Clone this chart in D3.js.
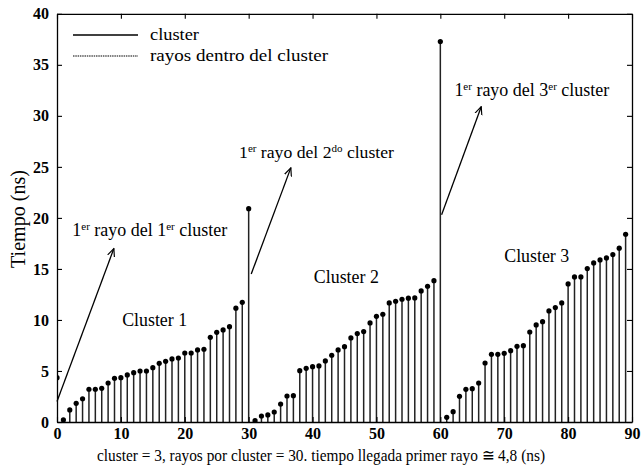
<!DOCTYPE html>
<html><head><meta charset="utf-8">
<script src="https://cdn.jsdelivr.net/npm/d3@7/dist/d3.min.js"></script>
<style>
html,body{margin:0;padding:0;background:#fff;}
svg text{font-family:"Liberation Serif","Times New Roman",serif;fill:#000;}
</style></head>
<body><svg id="c" width="641" height="470"></svg>
<script>
// ---- data ----
const clusterStarts = [0, 30, 60];
const cluster1 = [4.34, 0.20, 1.18, 1.83, 2.28, 3.21, 3.21, 3.30, 3.82, 4.28, 4.34, 4.61, 4.83, 5.00, 5.00,
  5.32, 5.75, 5.95, 6.18, 6.27, 6.76, 6.76, 7.06, 7.13, 8.30, 8.79, 9.02, 9.34, 11.15, 11.73];
const cluster2 = [20.9, 0.13, 0.59, 0.69, 0.98, 1.76, 2.55, 2.58, 5.03, 5.26, 5.42, 5.49, 5.98, 6.54, 7.06,
  7.38, 8.24, 8.66, 8.86, 9.71, 10.36, 10.56, 11.67, 11.83, 12.03, 12.13, 12.16, 12.84, 13.30, 13.85];
const cluster3 = [37.28, 0.46, 1.01, 2.52, 3.20, 3.27, 3.82, 5.78, 6.63, 6.63, 6.73, 6.99, 7.42, 7.48, 8.82,
  9.51, 9.83, 10.88, 11.21, 11.67, 13.53, 14.22, 14.22, 15.03, 15.59, 15.88, 16.08, 16.41, 17.03, 18.40];
const xTicks = [0, 10, 20, 30, 40, 50, 60, 70, 80, 90];
const yTicks = [0, 5, 10, 15, 20, 25, 30, 35, 40];
const legendLabels = ["cluster", "rayos dentro del cluster"];
const clusterNames = ["Cluster 1", "Cluster 2", "Cluster 3"];
const clusterLabelPos = [[10.2, 9.4], [40.2, 13.6], [70.0, 15.7]];
const ordinals = ["1", "2", "3"];
const ordSup = ["er", "do", "er"];
const arrowFrom = [[0, 2.0], [30.4, 14.5], [60.2, 20.3]];
const arrowTo = [[8.9, 17.0], [36.6, 24.9], [66.4, 30.9]];
const arrowTextPos = [[2.4, 18.2], [28.5, 25.9], [62.2, 31.9]];
const xTitle = "cluster = 3, rayos por cluster = 30. tiempo llegada primer rayo \u2245 4,8 (ns)";
const yTitle = "Tiempo (ns)";

const points = [];
[cluster1, cluster2, cluster3].forEach((arr, ci) => {
  arr.forEach((v, i) => points.push({x: clusterStarts[ci] + i, y: v}));
});

// ---- layout ----
const L = 57, R = 632, T = 13.8, B = 422;
const svg = d3.select("#c");
const x = d3.scaleLinear().domain([0, 90]).range([L, R]);
const y = d3.scaleLinear().domain([0, 40]).range([B, T]);

const defs = svg.append("defs");
defs.append("clipPath").attr("id", "clip").append("rect")
  .attr("x", L).attr("y", T - 5).attr("width", R - L).attr("height", B - T + 5);
defs.append("marker").attr("id", "ah").attr("viewBox", "0 0 10 10").attr("refX", 9).attr("refY", 5)
  .attr("markerWidth", 9).attr("markerHeight", 9).attr("orient", "auto").attr("markerUnits", "userSpaceOnUse")
  .append("path").attr("d", "M0,1 L9,5 L0,9").attr("fill", "none").attr("stroke", "#000").attr("stroke-width", 1.3);

// stems
const g = svg.append("g").attr("clip-path", "url(#clip)");
g.selectAll("line.stem").data(points).join("line").attr("class", "stem")
  .attr("x1", d => x(d.x)).attr("x2", d => x(d.x))
  .attr("y1", y(0)).attr("y2", d => y(d.y))
  .attr("stroke", "#222").attr("stroke-width", 1.5);
g.selectAll("circle").data(points).join("circle")
  .attr("cx", d => x(d.x)).attr("cy", d => y(d.y)).attr("r", 2.6).attr("fill", "#000");

// axes (box with inward ticks)
const axB = svg.append("g").attr("transform", `translate(0,${B})`)
  .call(d3.axisBottom(x).tickValues(xTicks).tickSizeInner(-5).tickSizeOuter(0).tickPadding(6));
const axT = svg.append("g").attr("transform", `translate(0,${T})`)
  .call(d3.axisTop(x).tickValues(xTicks).tickSizeInner(-5).tickSizeOuter(0).tickFormat(""));
const axL = svg.append("g").attr("transform", `translate(${L},0)`)
  .call(d3.axisLeft(y).tickValues(yTicks).tickSizeInner(-5).tickSizeOuter(0).tickPadding(8));
const axR = svg.append("g").attr("transform", `translate(${R},0)`)
  .call(d3.axisRight(y).tickValues(yTicks).tickSizeInner(-5).tickSizeOuter(0).tickFormat(""));
[axB, axT, axL, axR].forEach(a => {
  a.attr("font-family", null);
  a.select(".domain").attr("stroke", "#000").attr("stroke-width", 1.3);
  a.selectAll(".tick line").attr("stroke", "#000").attr("stroke-width", 1.1);
  a.selectAll("text").attr("font-size", 16).attr("font-weight", "bold").attr("fill", "#000");
});

// helper: set width exactly
function span(sel, w) {
  sel.attr("textLength", w).attr("lengthAdjust", "spacingAndGlyphs");
}
function fit(sel, w) {
  const n = sel.node(); const cur = n.getComputedTextLength();
  const fs = parseFloat(sel.attr("font-size"));
  sel.attr("font-size", fs * w / cur);
}

// axis titles
const xt = svg.append("text").attr("x", 97).attr("y", 461)
  .attr("font-size", 17).text(xTitle);
span(xt, 448);
const yt = svg.append("text").attr("transform", "translate(25,219) rotate(-90)").attr("text-anchor", "middle")
  .attr("font-size", 17).text(yTitle);
fit(yt, 98);

// legend
const legY = [35, 56];
const legW = [49, 178];
legendLabels.forEach((lab, i) => {
  svg.append("line").attr("x1", 73).attr("x2", 138).attr("y1", legY[i]).attr("y2", legY[i])
    .attr("stroke", i === 0 ? "#000" : "#555").attr("stroke-width", 1.3)
    .attr("stroke-dasharray", i === 0 ? null : "1.5,0.8");
  const t = svg.append("text").attr("x", 150).attr("y", legY[i] + 5).attr("font-size", 17).text(lab);
  span(t, legW[i]);
});

// cluster labels
clusterNames.forEach((nm, i) => {
  const t = svg.append("text").attr("x", x(clusterLabelPos[i][0])).attr("y", y(clusterLabelPos[i][1]))
    .attr("font-size", 16).text(nm);
  fit(t, 65);
});

// arrow annotations
ordinals.forEach((o, i) => {
  svg.append("line")
    .attr("x1", x(arrowFrom[i][0])).attr("y1", y(arrowFrom[i][1]))
    .attr("x2", x(arrowTo[i][0])).attr("y2", y(arrowTo[i][1]))
    .attr("stroke", "#000").attr("stroke-width", 1.3).attr("marker-end", "url(#ah)");
  const t = svg.append("text").attr("x", x(arrowTextPos[i][0])).attr("y", y(arrowTextPos[i][1]))
    .attr("font-size", 16);
  t.append("tspan").text("1");
  t.append("tspan").attr("font-size", 11).attr("dy", -6).text("er");
  t.append("tspan").attr("dy", 6).text(" rayo del " + o);
  t.append("tspan").attr("font-size", 11).attr("dy", -6).text(ordSup[i]);
  t.append("tspan").attr("dy", 6).text(" cluster");
  fit(t, 157);
});
</script></body></html>
